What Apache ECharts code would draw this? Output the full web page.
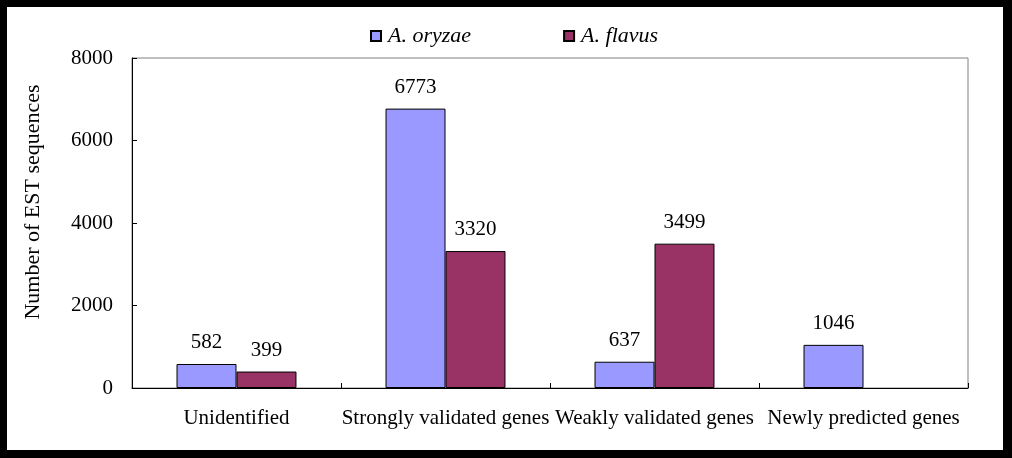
<!DOCTYPE html>
<html><head><meta charset="utf-8">
<script src="https://cdn.jsdelivr.net/npm/echarts@6/dist/echarts.min.js"></script>
<style>html,body{margin:0;padding:0;background:#fff}#c{width:1012px;height:458px}</style>
</head><body><div id="c"></div>
<script>
const categories = ['Unidentified', 'Strongly validated genes', 'Weakly validated genes', 'Newly predicted genes'];
const seriesNames = ['A. oryzae', 'A. flavus'];
const oryzae = [582, 6773, 637, 1046];
const flavus = [399, 3320, 3499, null];
const yTicks = { min: 0, max: 8000, interval: 2000 };

const font = 'Liberation Serif, Times New Roman, serif';
const chart = echarts.init(document.getElementById('c'), null, { renderer: 'canvas' });
const lbl = { show: true, position: 'top', distance: 11, color: '#000', fontFamily: font, fontSize: 21 };
chart.setOption({
  animation: false,
  backgroundColor: '#fff',
  textStyle: { fontFamily: font },
  legend: {
    left: 365, top: 20, itemWidth: 10, itemHeight: 10, itemGap: 92, icon: 'rect',
    textStyle: { fontFamily: font, fontSize: 22, fontStyle: 'italic', color: '#000', padding: [0, 0, 0, 2] },
    data: seriesNames
  },
  grid: { left: 132, top: 58, right: 44, bottom: 70, show: true, borderColor: '#808080', borderWidth: 1, containLabel: false },
  xAxis: {
    type: 'category', data: categories, boundaryGap: true,
    axisLine: { lineStyle: { color: '#000', width: 1 } },
    axisTick: { show: true, inside: true, length: 5, interval: 0, lineStyle: { color: '#000' } },
    axisLabel: { interval: 0, margin: 20, color: '#000', fontFamily: font, fontSize: 21 }
  },
  yAxis: {
    type: 'value', min: yTicks.min, max: yTicks.max, interval: yTicks.interval,
    name: 'Number of EST sequences', nameLocation: 'middle', nameGap: 88,
    nameTextStyle: { fontFamily: font, fontSize: 22, color: '#000', padding: [0, 0, 0, 42] },
    axisLine: { show: true, lineStyle: { color: '#000', width: 1 } },
    axisTick: { show: true, inside: true, length: 5, lineStyle: { color: '#000' } },
    splitLine: { show: false },
    axisLabel: { margin: 19, color: '#000', fontFamily: font, fontSize: 21, formatter: v => String(v) }
  },
  series: [
    { name: seriesNames[0], type: 'bar', data: oryzae, barGap: '0%', barCategoryGap: '42.6%',
      itemStyle: { color: '#9999FF', borderColor: '#000', borderWidth: 1 }, label: lbl },
    { name: seriesNames[1], type: 'bar', data: flavus,
      itemStyle: { color: '#993366', borderColor: '#000', borderWidth: 1 }, label: lbl }
  ],
  graphic: [
    { type: 'rect', shape: { x: 0, y: 0, width: 1012, height: 7 }, style: { fill: '#000' }, z: 100 },
    { type: 'rect', shape: { x: 0, y: 450, width: 1012, height: 8 }, style: { fill: '#000' }, z: 100 },
    { type: 'rect', shape: { x: 0, y: 0, width: 7, height: 458 }, style: { fill: '#000' }, z: 100 },
    { type: 'rect', shape: { x: 1003, y: 0, width: 9, height: 458 }, style: { fill: '#000' }, z: 100 }
  ]
});
</script></body></html>
